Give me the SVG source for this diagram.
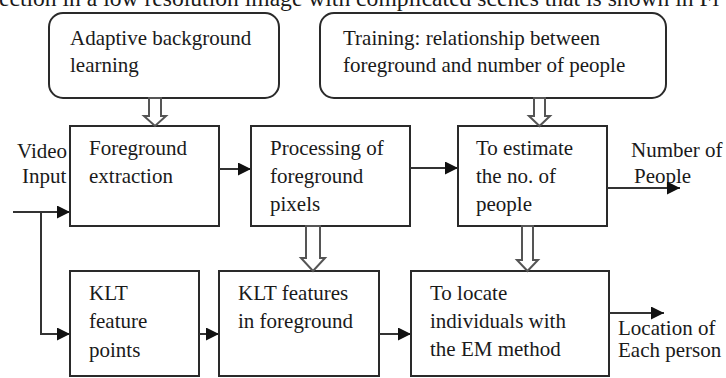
<svg xmlns="http://www.w3.org/2000/svg" width="726" height="378" viewBox="0 0 726 378">
<style>
text{font-family:"Liberation Serif","DejaVu Serif",serif;font-size:21px;fill:#1a1a1a}
.box{fill:#fff;stroke:#2a2a2a;stroke-width:2}
.con{fill:none;stroke:#333;stroke-width:2}
.hollow{fill:#fff;stroke:#555;stroke-width:2;stroke-linejoin:miter}
</style>
<defs>
<marker id="ah" markerUnits="userSpaceOnUse" markerWidth="14" markerHeight="13" refX="13" refY="6.5" orient="auto">
<path d="M0,0 L13,6.5 L0,13 Z" fill="#111"/>
</marker>
</defs>
<rect width="726" height="378" fill="#fff"/>
<g font-family="Liberation Serif, DejaVu Serif, serif">
<text x="-1" y="6" style="font-size:23.6px">ection in a low resolution image with complicated scenes that is shown in Fi</text>

<g id="adaptive">
<rect class="box" x="49" y="13" width="230" height="85" rx="14"/>
<text x="70" y="45">Adaptive background</text>
<text x="70" y="72">learning</text>
</g>
<g id="training">
<rect class="box" x="320" y="13" width="346" height="85" rx="14"/>
<text x="343" y="45">Training: relationship between</text>
<text x="343" y="72">foreground and number of people</text>
</g>
<g id="foreground">
<rect class="box" x="70" y="126" width="149" height="100"/>
<text x="89" y="155">Foreground</text>
<text x="89" y="183">extraction</text>
</g>
<g id="processing">
<rect class="box" x="251" y="126" width="159" height="100"/>
<text x="270" y="155">Processing of</text>
<text x="270" y="183">foreground</text>
<text x="270" y="211">pixels</text>
</g>
<g id="estimate">
<rect class="box" x="458" y="126" width="149" height="100"/>
<text x="476" y="155">To estimate</text>
<text x="476" y="183">the no. of</text>
<text x="476" y="211">people</text>
</g>
<g id="kltpoints">
<rect class="box" x="70" y="271" width="129" height="105"/>
<text x="89" y="300">KLT</text>
<text x="89" y="328">feature</text>
<text x="89" y="357">points</text>
</g>
<g id="kltfg">
<rect class="box" x="219" y="271" width="160" height="105"/>
<text x="238" y="300">KLT features</text>
<text x="238" y="328">in foreground</text>
</g>
<g id="locate">
<rect class="box" x="411" y="271" width="198" height="105"/>
<text x="430" y="300">To locate</text>
<text x="430" y="328">individuals with</text>
<text x="430" y="356">the EM method</text>
</g>
<g id="labels">
<text x="17" y="158">Video</text>
<text x="22" y="183">Input</text>
<text x="631" y="157">Number of</text>
<text x="634" y="183">People</text>
<text x="618" y="335">Location  of</text>
<text x="618" y="357">Each person</text>
</g>
</g>

<g id="connectors">
<path class="con" d="M219,169 H251" marker-end="url(#ah)"/>
<path class="con" d="M410,168 H458" marker-end="url(#ah)"/>
<path class="con" d="M607,188 H680" marker-end="url(#ah)"/>
<path class="con" d="M13,212 H70" stroke="#555" marker-end="url(#ah)"/>
<path class="con" d="M41,212 V334 H70" marker-end="url(#ah)"/>
<path class="con" d="M199,334 H219" marker-end="url(#ah)"/>
<path class="con" d="M379,334 H411" marker-end="url(#ah)"/>
<path class="con" d="M609,313 H664" marker-end="url(#ah)"/>
<polygon class="hollow" points="149,98 161,98 161,116 166,116 155,126 144,116 149,116"/>
<polygon class="hollow" points="534,98 545,98 545,116 550,116 539.5,126 529,116 534,116"/>
<polygon class="hollow" points="306,226 320,226 320,258 325,258 313,271 301,258 306,258"/>
<polygon class="hollow" points="522,226 533,226 533,260 538,260 527.5,271 517,260 522,260"/>
</g>
</svg>
